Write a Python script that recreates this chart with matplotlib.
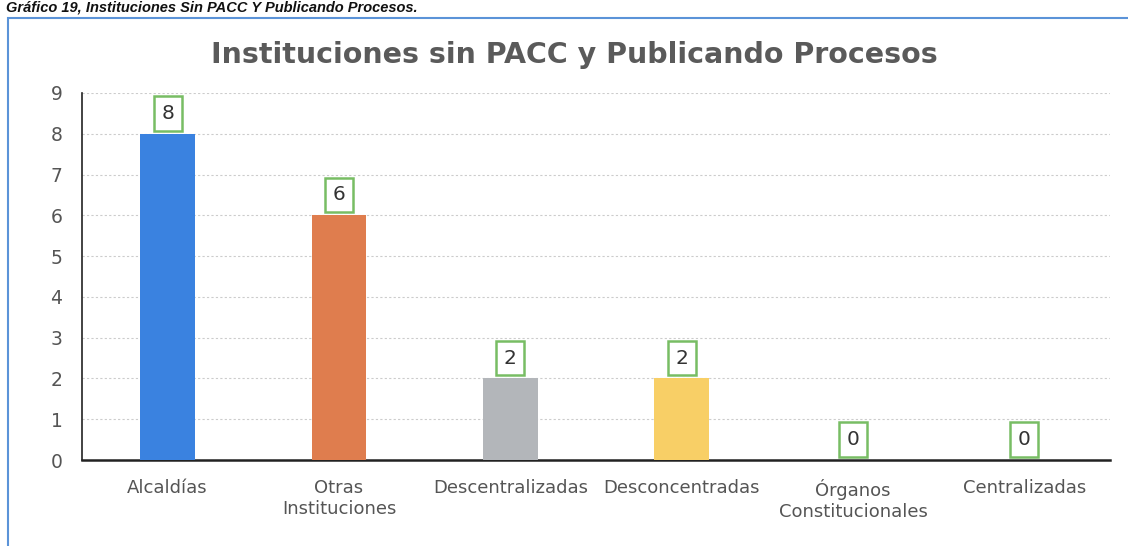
import numpy as np
import matplotlib.pyplot as plt

categories = ["Alcaldías", "Otras\nInstituciones", "Descentralizadas",
              "Desconcentradas", "Órganos\nConstitucionales", "Centralizadas"]
values = [8, 6, 2, 2, 0, 0]
colors = ["#3a82e0", "#df7d4e", "#b3b6ba", "#f8cf66", "#ffffff", "#ffffff"]
title = "Instituciones sin PACC y Publicando Procesos"
caption = "Gráfico 19, Instituciones Sin PACC Y Publicando Procesos."

fig = plt.figure(figsize=(11.28, 5.46), dpi=100)
fig.patch.set_facecolor("white")

# caption above the chart box
fig.text(0.005, 1 - 8 / 546, caption, fontsize=10.5, fontweight="bold", style="italic",
         color="#111111", ha="left", va="center", family="Liberation Sans")

# blue frame of the chart box
frame = plt.Rectangle((8 / 1128, -0.05), 1.2, 1 - 18 / 546 + 0.05,
                      transform=fig.transFigure, fill=False,
                      edgecolor="#5b93d8", linewidth=1.5)
fig.add_artist(frame)

fig.text(574 / 1128, 1 - 55 / 546, title, fontsize=20.5, fontweight="bold",
         color="#5a5a5a", ha="center", va="center")

ax = fig.add_axes([82 / 1128, 1 - 460 / 546, 1028 / 1128, 367 / 546])
x = np.arange(len(categories))
ax.bar(x, values, width=0.32, color=colors, zorder=3)

for xi, v in zip(x, values):
    ax.text(xi, v + 0.5, str(v), ha="center", va="center", fontsize=14.5,
            color="#333333", zorder=4,
            bbox=dict(boxstyle="square,pad=0.38", facecolor="white",
                      edgecolor="#78bd64", linewidth=1.8))

ax.set_xlim(-0.5, len(categories) - 0.5)
ax.set_ylim(0, 9)
ax.set_yticks(range(10))
ax.set_xticks(x)
ax.set_xticklabels(categories, fontsize=13, color="#555555", linespacing=1.15)
ax.tick_params(axis="y", labelsize=13.5, labelcolor="#555555", length=0, pad=14)
ax.tick_params(axis="x", length=0, pad=14)
ax.grid(axis="y", color="#cccccc", linestyle=(0, (2, 2)), linewidth=0.8, zorder=0)
for s in ["top", "right"]:
    ax.spines[s].set_visible(False)
ax.spines["left"].set_color("#222222")
ax.spines["left"].set_linewidth(1.2)
ax.spines["bottom"].set_color("#222222")
ax.spines["bottom"].set_linewidth(1.8)

fig.savefig("out.png", dpi=100)
